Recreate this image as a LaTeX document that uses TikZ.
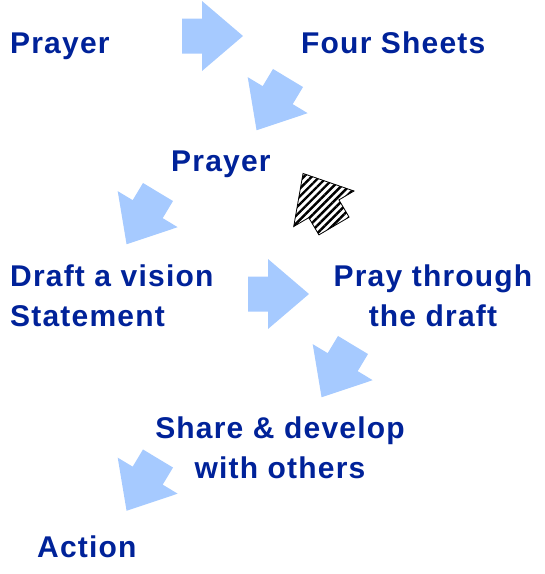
\documentclass[tikz,border=0pt]{standalone}
\usepackage{fontspec}
\usetikzlibrary{patterns.meta}
\newfontfamily\stepfont{Liberation Sans}[LetterSpace=4]
\definecolor{stepblue}{RGB}{0,34,153}
\definecolor{arrowblue}{RGB}{166,202,255}
\tikzset{
  steptext/.style={text=stepblue, inner sep=0pt, font=\stepfont\bfseries\fontsize{30}{40}\selectfont},
  blockarrow/.pic={\path[pic actions] (0,-17.5) -- (20,-17.5) -- (20,-35) -- (61,0) -- (20,35) -- (20,17.5) -- (0,17.5) -- cycle;},
  bluearrow/.style={fill=arrowblue},
  hatcharrow/.style={draw=black, line width=0.8pt, pattern={Lines[angle=45,distance=5.5pt,line width=2.4pt]}}
}

\begin{document}
\begin{tikzpicture}[x=1pt,y=-1pt]
\useasboundingbox (0,0) rectangle (545,574);
%----------steps-------------------------------
\node[steptext, anchor=base west] (prayer) at (10,53) {Prayer};
\node[steptext, anchor=base west] (sheets) at (301,53) {Four Sheets};
\node[steptext, anchor=base west] (prayertwo) at (171,171) {Prayer};
\node[steptext, anchor=north west, align=left] (draft) at (10,265) {Draft a vision\\Statement};
\node[steptext, anchor=north, align=center] (praydraft) at (433,265) {Pray through\\the draft};
\node[steptext, anchor=north, align=center] (share) at (280,417) {Share \& develop\\with others};
\node[steptext, anchor=base west] (action) at (37,557) {Action};
%----------arrows------------------------------
\pic[bluearrow] at (182,36) {blockarrow};
\pic[bluearrow, rotate=-121] at (288,78) {blockarrow};
\pic[bluearrow, rotate=-121] at (158,192) {blockarrow};
\pic[bluearrow] at (248,294) {blockarrow};
\pic[bluearrow, rotate=-121] at (353,345) {blockarrow};
\pic[bluearrow, rotate=-121] at (158,458.5) {blockarrow};
\pic[hatcharrow, rotate=120.5] at (334,226) {blockarrow};
\end{tikzpicture}
\end{document}
